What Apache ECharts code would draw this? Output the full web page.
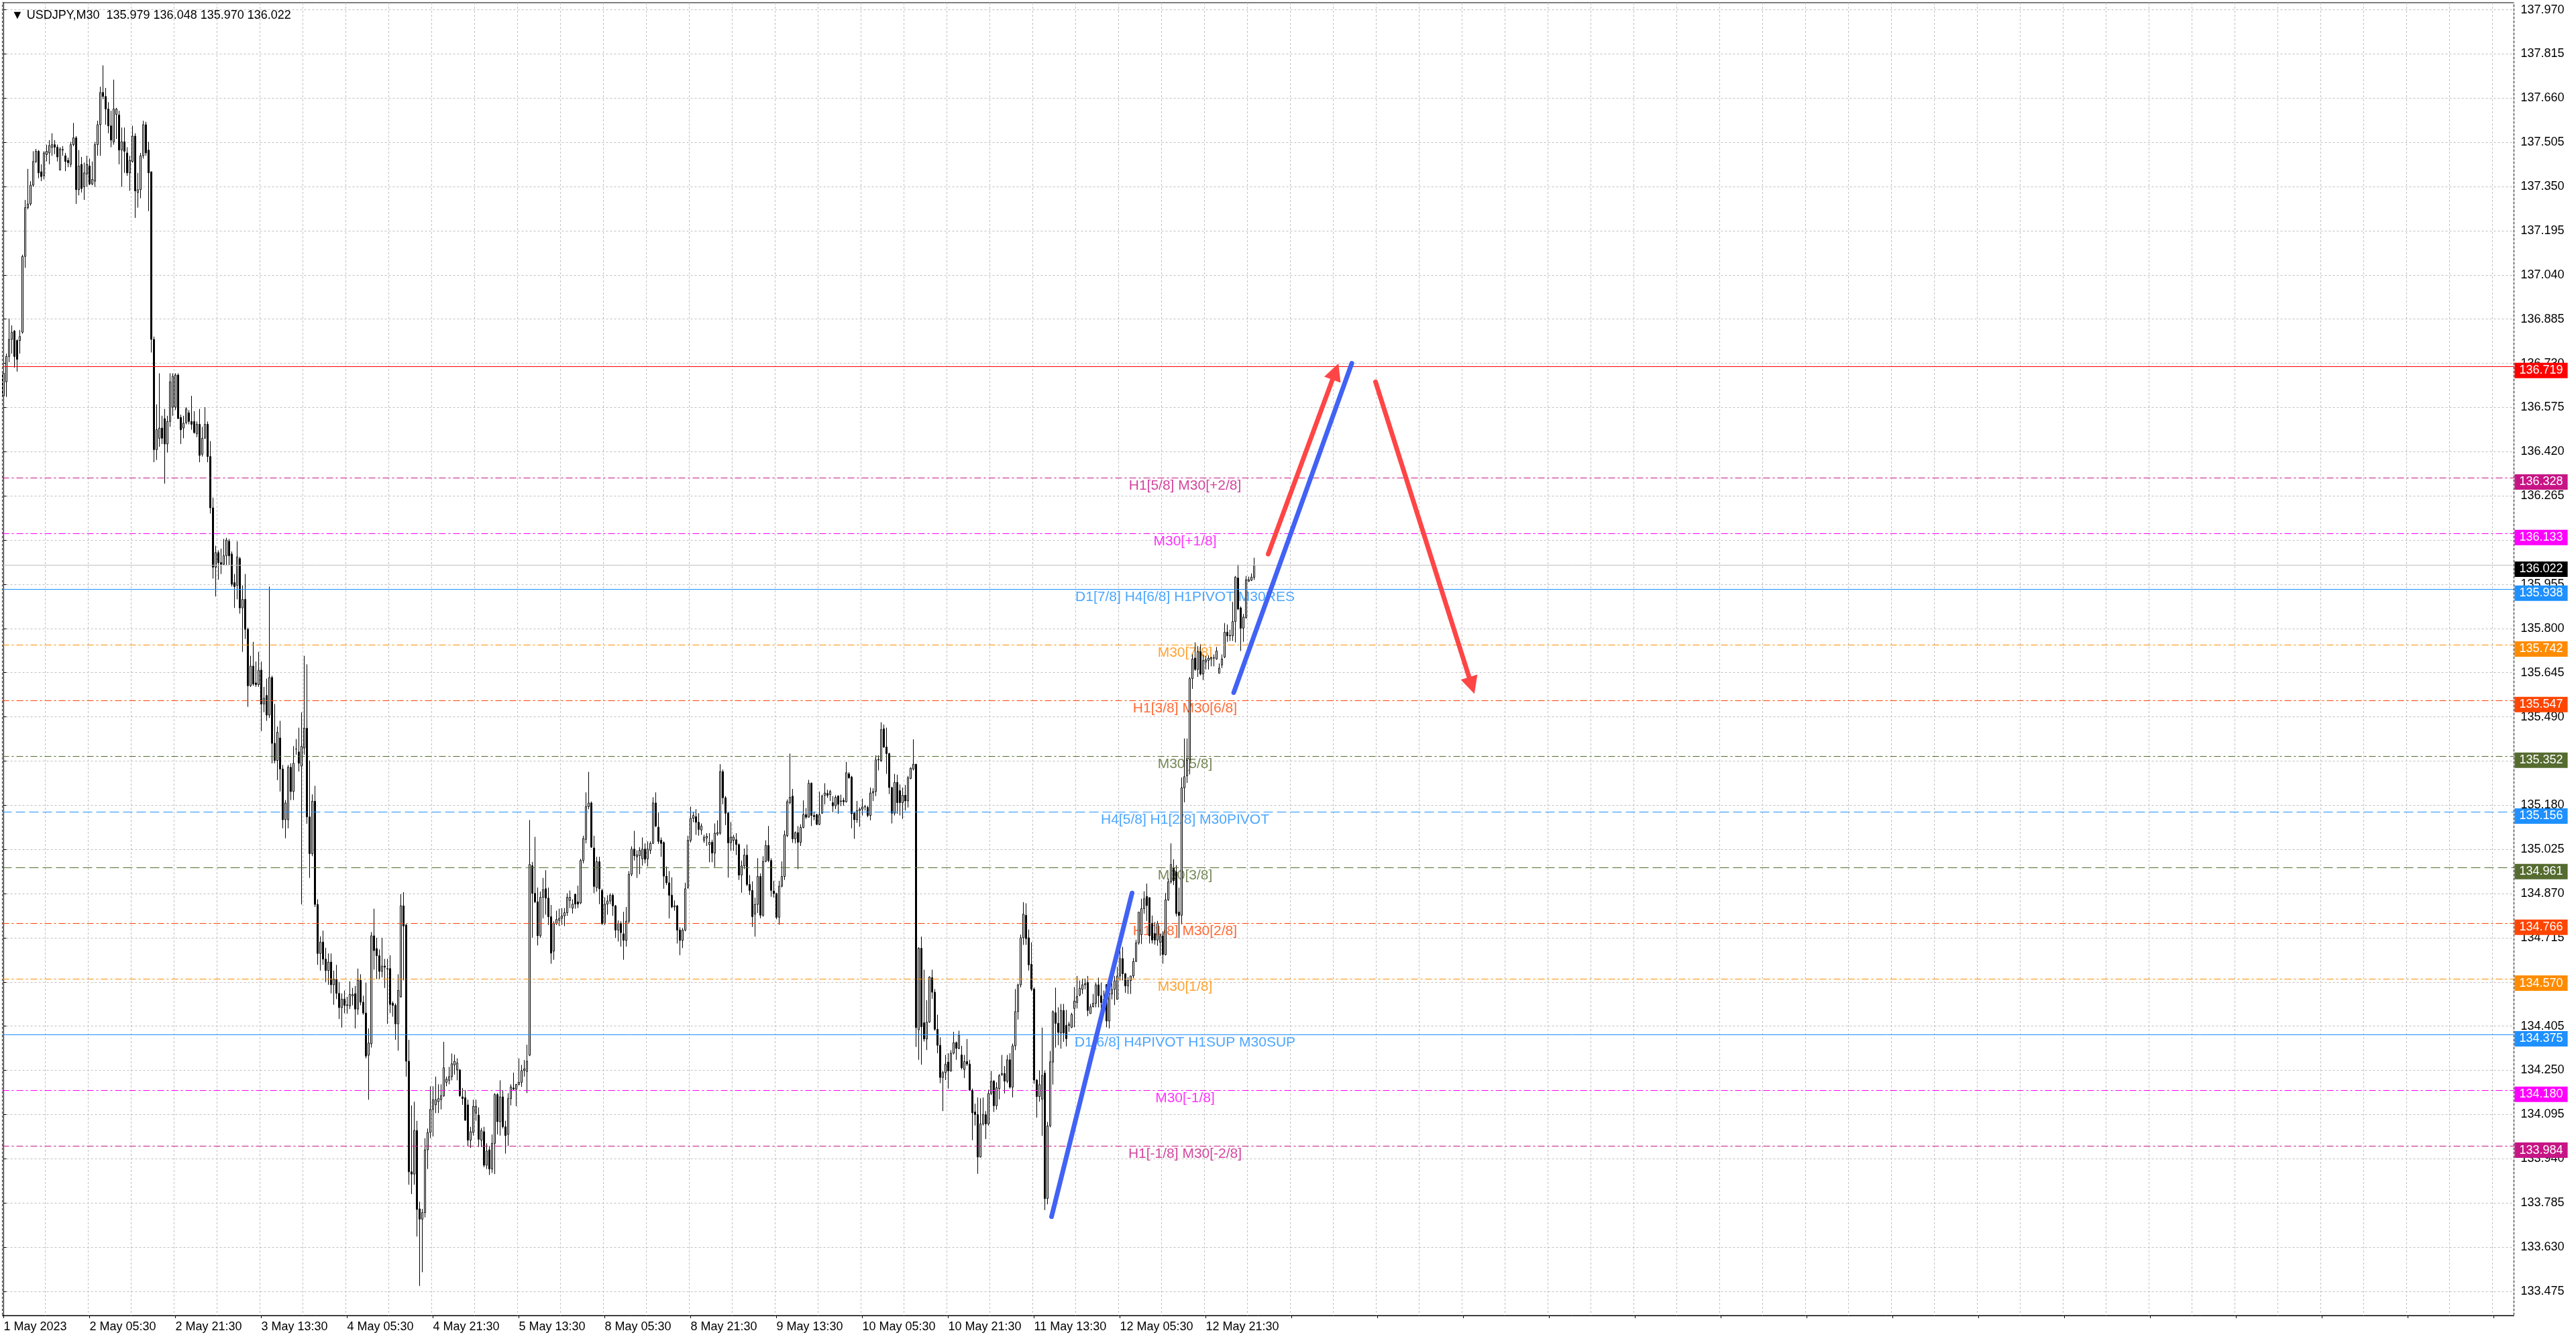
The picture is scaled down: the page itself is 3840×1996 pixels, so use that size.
<!DOCTYPE html>
<html><head><meta charset="utf-8">
<script src="https://cdn.jsdelivr.net/npm/echarts@6/dist/echarts.min.js"></script>
<style>html,body{margin:0;padding:0;background:#fff;}#c{width:3840px;height:1996px;}</style>
</head><body><div id="c"></div>
<script>
// ---------- data ----------
const headerText = '\u25BC USDJPY,M30  135.979 136.048 135.970 136.022';
const timeTickLabels = ['1 May 2023','2 May 05:30','2 May 21:30','3 May 13:30','4 May 05:30','4 May 21:30','5 May 13:30','8 May 05:30','8 May 21:30','9 May 13:30','10 May 05:30','10 May 21:30','11 May 13:30','12 May 05:30','12 May 21:30'];
const priceTicks = [137.970,137.815,137.660,137.505,137.350,137.195,137.040,136.885,136.730,136.575,136.420,136.265,136.110,135.955,135.800,135.645,135.490,135.335,135.180,135.025,134.870,134.715,134.560,134.405,134.250,134.095,133.940,133.785,133.630,133.475];

const opens = [
136.616,136.665,136.754,136.814,136.843,136.810,136.810,136.839,137.105,137.276,
137.289,137.355,137.438,137.474,137.402,137.388,137.462,137.468,137.488,137.497,
137.488,137.408,137.478,137.458,137.442,137.428,137.497,137.521,137.339,137.428,
137.349,137.394,137.422,137.359,137.369,137.497,137.567,137.680,137.666,137.622,
137.563,137.507,137.603,137.601,137.478,137.507,137.468,137.398,137.438,137.527,
137.329,137.339,137.458,137.567,137.478,137.402,136.814,136.427,136.467,136.503,
136.536,136.447,136.526,136.576,136.576,136.689,136.540,136.503,136.522,136.556,
136.526,136.526,136.483,136.516,136.411,136.467,136.516,136.403,136.223,136.015,
136.066,136.031,136.025,136.055,136.106,136.061,135.961,135.951,136.045,135.872,
135.902,135.797,135.599,135.668,135.609,135.603,135.654,135.535,135.565,135.496,
135.628,135.397,135.337,135.416,135.307,135.129,135.129,135.313,135.228,135.377,
135.367,135.317,135.381,135.450,135.139,135.010,135.194,134.832,134.660,134.700,
134.640,134.600,134.630,134.550,134.570,134.520,134.470,134.500,134.478,134.476,
134.511,134.519,134.465,134.566,134.489,134.451,134.303,134.343,134.722,134.677,
134.652,134.597,134.616,134.606,134.607,134.485,134.478,134.413,134.508,134.827,
134.760,134.282,133.894,133.886,134.039,133.764,133.728,133.751,133.971,134.032,
134.113,134.129,134.140,134.147,134.161,134.208,134.215,134.228,134.269,134.251,
134.251,134.157,134.154,134.129,134.005,134.032,134.100,134.093,134.005,134.035,
133.917,133.971,133.904,133.994,134.165,134.070,134.157,134.052,134.025,134.151,
134.188,134.184,134.201,134.208,134.249,134.246,134.303,134.968,134.871,134.841,
134.722,134.857,134.887,134.854,134.789,134.668,134.765,134.776,134.783,134.792,
134.803,134.846,134.819,134.868,134.841,134.837,134.986,135.060,135.175,135.188,
135.030,134.891,134.982,134.881,134.765,134.833,134.844,134.864,134.827,134.742,
134.765,134.729,134.706,134.773,134.938,135.026,134.999,135.003,134.992,135.026,
134.992,135.022,135.046,135.188,135.103,135.057,135.049,134.931,134.908,134.864,
134.823,134.827,134.742,134.706,134.742,134.891,135.057,135.134,135.140,135.120,
135.093,135.057,135.065,135.042,135.050,135.012,135.079,135.082,135.298,135.206,
135.152,135.048,135.057,135.059,135.042,134.935,134.967,135.005,134.902,134.881,
134.798,134.832,134.930,134.794,134.983,135.039,134.986,134.879,134.870,134.787,
134.896,134.930,135.073,135.189,135.212,135.062,135.084,135.050,135.102,135.147,
135.138,135.257,135.144,135.147,135.113,135.152,135.215,135.221,135.217,135.189,
135.178,135.212,135.193,135.197,135.192,135.290,135.279,135.152,135.129,135.161,
135.166,135.174,135.172,135.144,135.223,135.228,135.339,135.336,135.448,135.384,
135.361,135.242,135.152,135.260,135.231,135.189,135.215,135.195,135.274,135.307,
135.324,134.392,134.678,134.417,134.360,134.419,134.575,134.524,134.394,134.338,
134.225,134.242,134.279,134.248,134.310,134.347,134.327,134.304,134.253,134.281,
134.272,134.180,134.104,134.095,133.946,134.062,134.095,134.062,134.169,134.212,
134.126,134.186,134.234,134.239,134.212,134.287,134.191,134.336,134.456,134.550,
134.715,134.794,134.715,134.622,134.535,134.216,134.158,134.149,134.240,133.800,
134.055,134.279,134.452,134.415,134.381,134.460,134.408,134.407,134.401,134.467,
134.488,134.514,134.534,134.550,134.558,134.449,134.473,134.485,134.550,134.512,
134.488,134.551,134.423,134.518,134.534,134.499,134.581,134.642,134.589,134.546,
134.565,134.581,134.632,134.697,134.726,134.817,134.860,134.856,134.766,134.730,
134.707,134.699,134.722,134.656,134.848,134.911,134.960,134.946,134.805,134.794,
135.241,135.283,135.340,135.624,135.696,135.656,135.719,135.640,135.682,135.688,
135.693,135.697,135.693,135.643,135.672,135.700,135.787,135.774,135.774,135.824,
135.977,135.872,135.801,135.837,135.966,135.969,135.979];

const closes = [
136.695,136.754,136.814,136.839,136.754,136.744,136.824,137.105,137.276,137.289,
137.355,137.438,137.474,137.398,137.385,137.468,137.474,137.494,137.497,137.488,
137.454,137.482,137.480,137.438,137.434,137.497,137.521,137.339,137.422,137.343,
137.398,137.428,137.359,137.375,137.497,137.567,137.680,137.666,137.622,137.563,
137.513,137.622,137.622,137.478,137.507,137.474,137.398,137.442,137.527,137.335,
137.339,137.458,137.567,137.468,137.398,136.814,136.427,136.497,136.503,136.467,
136.447,136.526,136.665,136.685,136.689,136.536,136.497,136.520,136.570,136.526,
136.516,136.487,136.516,136.407,136.467,136.516,136.403,136.223,136.015,136.066,
136.031,136.025,136.055,136.110,136.055,135.955,135.947,136.051,135.872,135.902,
135.797,135.599,135.668,135.605,135.603,135.654,135.535,135.555,135.496,135.628,
135.397,135.337,135.436,135.307,135.129,135.188,135.313,135.228,135.327,135.377,
135.327,135.387,135.450,135.139,135.010,135.194,134.832,134.660,134.700,134.640,
134.600,134.630,134.550,134.570,134.520,134.470,134.500,134.478,134.480,134.516,
134.516,134.465,134.566,134.489,134.451,134.300,134.346,134.722,134.670,134.652,
134.597,134.616,134.612,134.607,134.481,134.478,134.413,134.530,134.827,134.756,
134.282,133.894,133.886,134.039,133.762,133.728,133.751,133.971,134.032,134.113,
134.147,134.147,134.151,134.161,134.259,134.219,134.228,134.273,134.282,134.276,
134.161,134.151,134.075,134.005,134.035,134.124,134.124,134.008,134.039,133.917,
133.967,133.904,133.994,134.165,134.070,134.157,134.052,134.021,134.151,134.192,
134.184,134.201,134.208,134.249,134.255,134.282,134.972,134.871,134.841,134.722,
134.857,134.884,134.854,134.789,134.661,134.765,134.779,134.783,134.792,134.803,
134.857,134.857,134.833,134.833,134.833,134.986,135.063,135.175,135.188,135.033,
134.895,134.982,134.887,134.765,134.833,134.844,134.864,134.827,134.742,134.765,
134.733,134.706,134.773,134.938,135.026,135.003,135.006,135.022,135.026,134.990,
135.026,135.046,135.188,135.107,135.053,135.046,134.931,134.908,134.864,134.823,
134.827,134.742,134.706,134.742,134.887,135.057,135.134,135.144,135.120,135.095,
135.107,135.068,135.071,135.050,135.012,135.082,135.084,135.298,135.206,135.152,
135.048,135.068,135.068,135.042,134.935,134.967,135.005,134.902,134.881,134.789,
134.832,134.930,134.794,134.983,135.039,134.986,134.881,134.870,134.787,134.896,
134.930,135.076,135.192,135.208,135.062,135.084,135.050,135.102,135.147,135.138,
135.257,135.144,135.140,135.113,135.147,135.212,135.223,135.215,135.228,135.178,
135.208,135.183,135.195,135.192,135.294,135.276,135.150,135.129,135.161,135.166,
135.174,135.175,135.144,135.223,135.228,135.339,135.341,135.445,135.384,135.361,
135.242,135.152,135.260,135.189,135.189,135.215,135.195,135.276,135.310,135.324,
134.400,134.678,134.403,134.360,134.419,134.577,134.524,134.394,134.338,134.225,
134.242,134.272,134.248,134.310,134.347,134.327,134.374,134.259,134.281,134.272,
134.180,134.101,134.095,133.946,134.062,134.095,134.062,134.169,134.212,134.126,
134.189,134.231,134.239,134.212,134.287,134.191,134.336,134.456,134.550,134.715,
134.798,134.712,134.620,134.535,134.216,134.158,134.200,134.232,133.800,134.055,
134.280,134.456,134.415,134.383,134.460,134.381,134.361,134.412,134.446,134.493,
134.510,134.538,134.550,134.554,134.460,134.473,134.485,134.550,134.512,134.488,
134.499,134.423,134.520,134.534,134.564,134.581,134.642,134.589,134.546,134.565,
134.581,134.632,134.697,134.805,134.817,134.852,134.828,134.722,134.707,134.707,
134.766,134.722,134.656,134.848,134.911,134.972,134.915,134.800,134.793,135.241,
135.280,135.338,135.624,135.693,135.656,135.719,135.640,135.688,135.690,135.696,
135.698,135.696,135.721,135.661,135.693,135.787,135.774,135.776,135.824,135.980,
135.868,135.801,135.840,135.971,135.971,135.980,136.022];

const highs = [
136.715,136.764,136.887,136.863,136.847,136.814,136.847,137.111,137.303,137.412,
137.369,137.474,137.482,137.478,137.428,137.474,137.497,137.513,137.537,137.513,
137.497,137.488,137.492,137.468,137.452,137.507,137.573,137.527,137.478,137.454,
137.434,137.458,137.448,137.438,137.507,137.581,137.700,137.775,137.696,137.646,
137.616,137.725,137.626,137.616,137.557,137.557,137.488,137.458,137.563,137.537,
137.398,137.468,137.581,137.577,137.507,137.402,136.824,136.586,136.695,136.546,
136.570,136.546,136.695,136.695,136.695,136.695,136.550,136.546,136.576,136.566,
136.616,136.562,136.526,136.570,136.507,136.576,136.526,136.457,136.259,136.090,
136.074,136.080,136.114,136.118,136.114,136.070,135.991,136.106,136.051,135.951,
135.991,135.803,135.704,135.753,135.684,135.718,135.684,135.595,135.624,135.947,
135.634,135.535,135.456,135.476,135.321,135.198,135.321,135.327,135.387,135.412,
135.452,135.506,135.704,135.674,135.337,135.218,135.248,134.850,134.720,134.740,
134.680,134.660,134.660,134.600,134.620,134.560,134.520,134.530,134.508,134.562,
134.539,134.546,134.607,134.587,134.512,134.557,134.397,134.735,134.817,134.715,
134.674,134.715,134.641,134.641,134.654,134.492,134.485,134.587,134.868,134.875,
134.763,134.357,134.127,134.140,134.073,133.789,133.764,134.012,134.046,134.194,
134.194,134.228,134.201,134.201,134.350,134.228,134.262,134.309,134.305,134.292,
134.255,134.188,134.181,134.147,134.052,134.147,134.147,134.120,134.048,134.052,
133.994,133.985,134.025,134.170,134.170,134.215,134.181,134.073,134.170,134.201,
134.242,134.201,134.292,134.269,134.286,134.340,135.128,134.981,135.069,134.891,
134.877,134.925,134.952,134.891,134.830,134.773,134.810,134.817,134.819,134.819,
134.871,134.881,134.850,134.868,134.898,134.992,135.073,135.225,135.297,135.193,
135.073,134.999,134.999,134.887,134.857,134.864,134.871,134.871,134.830,134.776,
134.773,134.806,134.823,134.949,135.036,135.090,135.022,135.033,135.067,135.046,
135.053,135.053,135.208,135.225,135.155,135.067,135.053,134.965,134.949,134.927,
134.846,134.830,134.752,134.749,134.908,135.073,135.175,135.155,135.166,135.152,
135.116,135.076,135.082,135.082,135.059,135.116,135.127,135.324,135.305,135.212,
135.155,135.121,135.076,135.082,135.046,134.986,135.028,135.042,134.935,134.913,
134.856,134.994,134.941,135.001,135.057,135.107,134.994,134.915,134.873,134.915,
134.983,135.091,135.200,135.361,135.237,135.088,135.107,135.113,135.197,135.170,
135.269,135.260,135.155,135.150,135.228,135.217,135.257,135.234,135.234,135.212,
135.215,135.215,135.217,135.206,135.332,135.296,135.283,135.155,135.195,135.172,
135.203,135.181,135.178,135.242,135.240,135.355,135.355,135.471,135.463,135.452,
135.364,135.245,135.290,135.287,135.253,135.242,135.251,135.283,135.313,135.411,
135.324,134.682,134.719,134.603,134.496,134.580,134.603,134.535,134.445,134.366,
134.248,134.304,134.310,134.321,134.385,134.351,134.389,134.336,134.304,134.360,
134.287,134.186,134.133,134.155,134.152,134.155,134.107,134.182,134.248,134.216,
134.208,134.237,134.304,134.265,134.304,134.310,134.344,134.535,134.554,134.726,
134.840,134.836,134.744,134.699,134.541,134.219,134.250,134.400,134.250,134.069,
134.318,134.460,134.540,134.471,134.483,134.483,134.462,134.420,134.452,134.542,
134.581,134.565,134.572,134.572,134.581,134.483,134.518,134.558,134.575,134.558,
134.530,134.551,134.534,134.565,134.581,134.613,134.683,134.683,134.591,134.577,
134.581,134.644,134.708,134.805,134.852,134.878,134.905,134.856,134.793,134.770,
134.774,134.730,134.738,134.872,134.923,135.046,134.990,134.970,134.891,135.277,
135.414,135.414,135.630,135.709,135.751,135.738,135.745,135.709,135.703,135.706,
135.700,135.709,135.735,135.677,135.709,135.819,135.814,135.795,135.893,135.984,
136.024,135.877,135.851,135.984,135.982,135.993,136.048];

const lows = [
136.606,136.612,136.734,136.764,136.715,136.701,136.764,136.834,137.065,137.270,
137.283,137.349,137.432,137.379,137.369,137.375,137.438,137.428,137.458,137.464,
137.438,137.408,137.458,137.404,137.418,137.418,137.492,137.289,137.319,137.329,
137.303,137.349,137.355,137.355,137.349,137.458,137.458,137.656,137.567,137.537,
137.488,137.497,137.517,137.428,137.349,137.398,137.388,137.335,137.434,137.240,
137.276,137.309,137.448,137.458,137.264,136.768,136.383,136.391,136.437,136.447,
136.308,136.417,136.507,136.546,136.566,136.536,136.447,136.467,136.516,136.516,
136.497,136.483,136.471,136.383,136.403,136.467,136.383,136.203,135.975,135.912,
135.971,135.991,136.021,136.021,136.021,135.947,135.872,135.902,135.852,135.718,
135.763,135.525,135.595,135.599,135.595,135.595,135.440,135.506,135.476,135.486,
135.327,135.327,135.268,135.228,135.099,135.064,135.099,135.198,135.198,135.357,
135.298,134.832,135.357,135.115,134.925,135.001,134.823,134.620,134.600,134.620,
134.560,134.550,134.520,134.480,134.500,134.430,134.400,134.450,134.449,134.465,
134.478,134.397,134.445,134.478,134.445,134.292,134.147,134.330,134.603,134.570,
134.570,134.576,134.539,134.413,134.451,134.438,134.357,134.319,134.505,134.566,
134.228,133.849,133.816,133.849,133.667,133.494,133.542,133.734,133.904,134.012,
134.018,134.100,134.100,134.113,134.157,134.194,134.201,134.215,134.235,134.215,
134.157,134.129,134.073,133.985,133.978,134.021,134.073,133.981,133.981,133.910,
133.904,133.883,133.890,133.886,134.025,134.021,134.046,133.958,133.985,134.127,
134.181,134.124,134.197,134.192,134.228,134.170,134.300,134.715,134.837,134.688,
134.715,134.783,134.796,134.760,134.624,134.638,134.760,134.756,134.760,134.756,
134.792,134.819,134.800,134.817,134.819,134.833,134.976,135.046,135.166,135.030,
134.871,134.877,134.833,134.760,134.760,134.796,134.833,134.792,134.715,134.702,
134.684,134.638,134.684,134.765,134.931,134.986,134.925,134.938,134.968,134.976,
134.965,135.009,135.044,135.103,135.044,134.999,134.887,134.900,134.783,134.819,
134.810,134.695,134.654,134.679,134.738,134.887,135.049,135.120,135.076,135.073,
135.076,135.048,135.037,134.980,134.980,134.963,135.073,135.076,135.183,135.110,
134.926,135.020,135.020,135.005,134.918,134.873,134.956,134.896,134.865,134.753,
134.719,134.802,134.783,134.789,134.980,134.980,134.859,134.856,134.780,134.761,
134.892,134.918,135.068,135.183,135.048,135.046,134.956,135.037,135.099,135.132,
135.137,135.107,135.127,135.110,135.110,135.150,135.183,135.206,135.195,135.155,
135.166,135.150,135.177,135.178,135.189,135.273,135.099,135.062,135.118,135.104,
135.144,135.161,135.138,135.127,135.195,135.212,135.302,135.332,135.381,135.290,
135.219,135.116,135.144,135.150,135.144,135.132,135.161,135.172,135.271,135.302,
134.332,134.287,134.270,134.351,134.321,134.417,134.501,134.389,134.310,134.205,
134.107,134.216,134.186,134.245,134.306,134.287,134.324,134.253,134.223,134.265,
134.178,134.005,134.056,133.887,133.944,134.056,134.009,134.056,134.163,134.104,
134.112,134.148,134.231,134.169,134.205,134.186,134.155,134.321,134.428,134.541,
134.690,134.690,134.600,134.528,134.203,134.084,134.140,134.020,133.760,133.780,
134.050,134.200,134.330,134.338,134.326,134.350,134.334,134.385,134.398,134.401,
134.467,134.510,134.518,134.534,134.440,134.449,134.471,134.471,134.471,134.467,
134.463,134.401,134.397,134.499,134.479,134.499,134.565,134.565,134.522,134.518,
134.518,134.573,134.630,134.691,134.693,134.799,134.774,134.695,134.695,134.691,
134.687,134.652,134.624,134.653,134.844,134.905,134.900,134.790,134.715,134.762,
135.190,135.258,135.288,135.588,135.651,135.630,135.635,135.619,135.656,135.656,
135.667,135.667,135.690,135.643,135.661,135.696,135.753,135.756,135.756,135.751,
135.864,135.721,135.753,135.835,135.963,135.966,135.970];

// horizontal level lines (price, text, colour, style, price-box colour)
const levelPrices = [136.719,136.328,136.133,136.022,135.938,135.742,135.547,135.352,135.156,134.961,134.766,134.570,134.375,134.180,133.984];
const levelNames  = ['','H1[5/8] M30[+2/8]','M30[+1/8]','','D1[7/8] H4[6/8] H1PIVOT M30RES','M30[7/8]','H1[3/8] M30[6/8]','M30[5/8]','H4[5/8] H1[2/8] M30PIVOT','M30[3/8]','H1[1/8] M30[2/8]','M30[1/8]','D1[6/8] H4PIVOT H1SUP M30SUP','M30[-1/8]','H1[-1/8] M30[-2/8]'];
const levelColors = ['#FF0000','#C71585','#FF00FF','#C0C0C0','#1E90FF','#FF8C00','#FF4500','#556B2F','#1E90FF','#556B2F','#FF4500','#FF8C00','#1E90FF','#FF00FF','#C71585'];
const levelStyles = ['solid','dashdot','dashdot','solid','solid','dashdot','dashdot','dashdot','dashed','dashed','dashdot','dashdot','solid','dashdot','dashdot'];
const levelBoxColors = ['#FF0000','#C71585','#FF00FF','#000000','#1E90FF','#FF8C00','#FF4500','#556B2F','#1E90FF','#556B2F','#FF4500','#FF8C00','#1E90FF','#FF00FF','#C71585'];

// drawn trend lines / arrows: [[barIndex, price], [barIndex, price]]
const blueLines = [[[390.5,133.737],[420.5,134.872]], [[458.4,135.575],[502.4,136.730]]];
const redArrows = [[[471.25,136.061],[496.3,136.701]], [[511.25,136.665],[547.1,135.600]]];

// ---------- layout constants ----------
const N_SLOTS = 936;       // bar slots across the chart width
const LABEL_EVERY = 32;    // bars between time labels
const GRID_EVERY = 16;     // bars between vertical grid lines
const LEVEL_LABEL_X = 440.25;
const FONT = "'Liberation Sans', Arial, 'DejaVu Sans', sans-serif";
const BLUE = '#4262F4';
const RED = '#FF4545';
const dashPatterns = { solid: 'solid', dashdot: [10, 4, 3, 4], dashed: [14, 6] };

const candleData = opens.map((o, i) => [o, closes[i], lows[i], highs[i]]);
const slots = Array.from({ length: N_SLOTS }, (_, i) => String(i));

const levelLineData = levelPrices.map((p, i) => ({
  yAxis: p,
  lineStyle: { color: levelColors[i], type: dashPatterns[levelStyles[i]], width: 1 },
  label: { backgroundColor: levelBoxColors[i] }
}));

const levelTextData = levelPrices
  .map((p, i) => ({ value: [LEVEL_LABEL_X, p], name: levelNames[i], label: { color: levelColors[i] } }))
  .filter(d => d.name);

const chart = echarts.init(document.getElementById('c'), null, { renderer: 'canvas', width: 3840, height: 1996 });

chart.setOption({
  animation: false,
  backgroundColor: '#ffffff',
  title: {
    text: headerText, left: 12, top: 9,
    textStyle: { fontFamily: FONT, fontSize: 18, fontWeight: 'normal', color: '#000' }
  },
  grid: { left: 3.5, top: 4, right: 92.5, bottom: 35, show: true, borderColor: '#000', borderWidth: 1, backgroundColor: 'transparent' },
  xAxis: [{
    type: 'category', data: slots, boundaryGap: true,
    axisLine: { show: true, lineStyle: { color: '#000', width: 1 } },
    axisTick: { show: true, interval: LABEL_EVERY - 1, alignWithLabel: true, length: 4, lineStyle: { color: '#000' } },
    axisLabel: {
      interval: LABEL_EVERY - 1, align: 'left', margin: 8, color: '#000', fontFamily: FONT, fontSize: 18,
      formatter: (v, idx) => (idx % LABEL_EVERY === 0 && timeTickLabels[idx / LABEL_EVERY]) ? timeTickLabels[idx / LABEL_EVERY] : ''
    },
    splitLine: { show: true, interval: GRID_EVERY - 1, lineStyle: { color: '#C0C0C0', type: [3, 3], width: 1 } }
  }, {
    type: 'value', min: -0.5, max: N_SLOTS - 0.5, show: false, gridIndex: 0
  }],
  yAxis: [{
    type: 'value', position: 'right', min: 133.39, max: 137.995, scale: true,
    axisLine: { show: true, lineStyle: { color: '#000' } },
    axisTick: { show: true, customValues: priceTicks, length: 4, lineStyle: { color: '#000' } },
    axisLabel: { customValues: priceTicks, margin: 10, color: '#000', fontFamily: FONT, fontSize: 18, formatter: v => v.toFixed(3) },
    splitLine: { show: true, lineStyle: { color: '#C0C0C0', type: [3, 3], width: 1 } }
  }],
  series: [{
    type: 'candlestick', xAxisIndex: 0, yAxisIndex: 0, data: candleData,
    barWidth: 2, silent: true, z: 3,
    itemStyle: { color: '#ffffff', color0: '#000000', borderColor: '#000000', borderColor0: '#000000', borderColorDoji: '#000000', borderWidth: 1 },
    markLine: {
      silent: true, symbol: 'none', animation: false, precision: 3,
      label: {
        show: true, position: 'end', distance: 1, offset: [0, 6], color: '#fff',
        fontFamily: FONT, fontSize: 18, lineHeight: 19, padding: [2, 7, 2, 7],
        formatter: p => Number(p.value).toFixed(3)
      },
      data: levelLineData
    }
  }, {
    type: 'scatter', xAxisIndex: 1, yAxisIndex: 0, symbolSize: 1, silent: true, z: 2,
    itemStyle: { color: 'rgba(0,0,0,0)' },
    label: { show: true, position: 'inside', offset: [0, 12], fontFamily: FONT, fontSize: 21, formatter: d => d.name },
    data: levelTextData
  }, {
    type: 'lines', coordinateSystem: 'cartesian2d', xAxisIndex: 1, yAxisIndex: 0, silent: true, z: 6,
    symbol: 'none',
    lineStyle: { color: BLUE, width: 7, cap: 'round', opacity: 1 },
    data: blueLines.map(c => ({ coords: c }))
  }, {
    type: 'lines', coordinateSystem: 'cartesian2d', xAxisIndex: 1, yAxisIndex: 0, silent: true, z: 6,
    symbol: ['none', 'triangle'], symbolSize: 26,
    lineStyle: { color: RED, width: 7, cap: 'round', opacity: 1 },
    data: redArrows.map(c => ({ coords: c }))
  }]
});
</script>
</body></html>
